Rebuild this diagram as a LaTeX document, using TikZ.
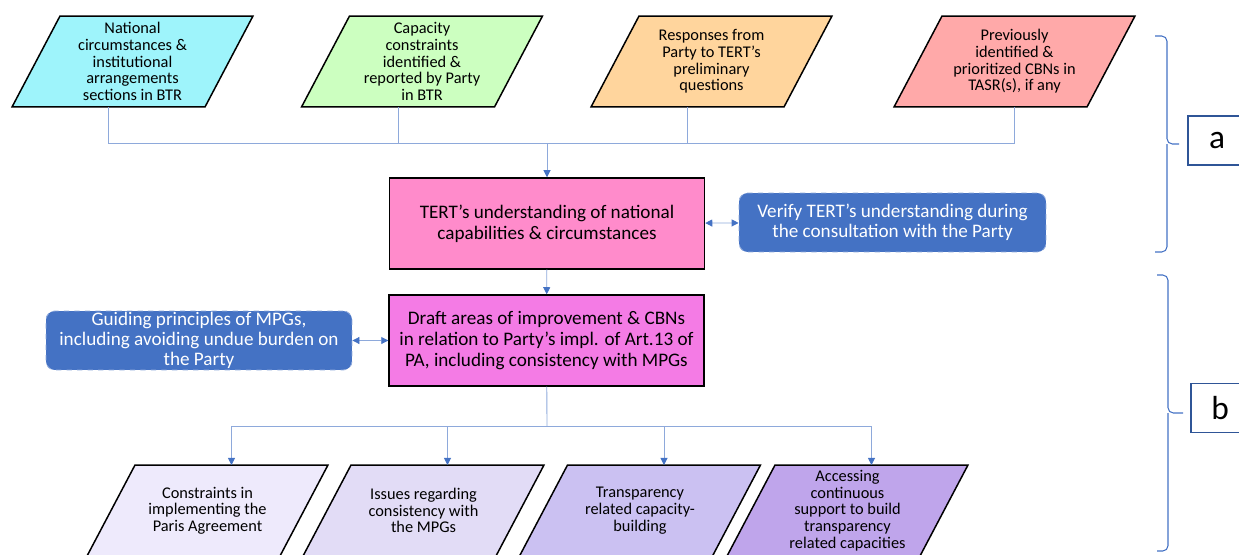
\documentclass[tikz,border=0pt]{standalone}
\usepackage{fontspec}
\setmainfont{Carlito}
\usetikzlibrary{positioning,arrows.meta,backgrounds}
\definecolor{natcol}{HTML}{9EF4FB}
\definecolor{capcol}{HTML}{CCFFC0}
\definecolor{respcol}{HTML}{FFD59D}
\definecolor{prevcol}{HTML}{FFA9A9}
\definecolor{tertcol}{HTML}{FF8BCB}
\definecolor{draftcol}{HTML}{F47BE5}
\definecolor{blueacc}{HTML}{4472C4}
\definecolor{linkcol}{HTML}{8EA9DB}
\definecolor{labcol}{HTML}{2F5597}
\definecolor{outa}{HTML}{EEEAFC}
\definecolor{outb}{HTML}{E2DCF6}
\definecolor{outc}{HTML}{CBC1F2}
\definecolor{outd}{HTML}{BFA5EB}

\begin{document}
\begin{tikzpicture}[x=0.02cm,y=-0.02cm,
	paranode/.style={minimum width=4.82cm,minimum height=1.82cm,inner sep=0pt,outer sep=0pt,align=center,font=\fontsize{9.3}{9.5}\selectfont},
	parashape/.style={draw=black,line width=0.85pt,line join=miter},
	mainbox/.style={draw=black,line width=0.85pt,minimum width=6.3cm,minimum height=1.82cm,inner sep=0pt,align=center,font=\fontsize{10.9}{11.9}\selectfont},
	bluebox/.style={fill=blueacc,draw=linkcol,dashed,line width=0.5pt,rounded corners=5pt,minimum width=6.12cm,minimum height=1.18cm,inner sep=0pt,text=white,align=center,font=\fontsize{10.9}{11.3}\selectfont},
	lab/.style={draw=labcol,line width=1.1pt,minimum width=1.16cm,minimum height=0.98cm,inner sep=0pt,font=\fontsize{19}{23}\selectfont},
	link/.style={draw=linkcol,line width=0.5pt},
	arr/.style={link,-{Triangle[length=4pt,width=4pt,color=blueacc]}},
	darr/.style={link,{Triangle[length=4pt,width=4pt,color=blueacc]}-{Triangle[length=4pt,width=4pt,color=blueacc]}},
	brc/.style={draw=blueacc,line width=0.6pt,rounded corners=3pt}
]
	\useasboundingbox (0,0) rectangle (1239,554);
	\clip (0,0) rectangle (1239,554);
	\foreach \n/\x/\t in {natcirc/132.5/{National\\circumstances \&\\institutional\\arrangements\\sections in BTR},
		capcon/422/{Capacity\\constraints\\identified \&\\reported by Party\\in BTR},
		resp/711.5/{Responses from\\Party to TERT’s\\preliminary\\questions},
		prevcbn/1014.5/{Previously\\identified \&\\prioritized CBNs in\\TASR(s), if any}}{
		\node[paranode] (\n) at (\x,61.5) {\t};
	}
	\node[mainbox,fill=tertcol] (tert) at (547,223.5) {TERT’s understanding of national\\capabilities \& circumstances};
	\node[bluebox,minimum width=6.14cm] (verify) at (892.5,222.5) {Verify TERT’s understanding during\\the consultation with the Party};
	\node[mainbox,fill=draftcol] (draft) at (546.5,340.5) {Draft areas of improvement \& CBNs\\in relation to Party’s impl. of Art.13 of\\PA, including consistency with MPGs};
	\node[bluebox] (guide) at (199,340.5) {Guiding principles of MPGs,\\including avoiding undue burden on\\the Party};
	\foreach \n/\x/\t in {constr/207.5/{Constraints in\\implementing the\\Paris Agreement},
		issues/423.5/{Issues regarding\\consistency with\\the MPGs},
		tcb/640/{Transparency\\related capacity-\\building},
		access/847.5/{Accessing\\continuous\\support to build\\transparency\\related capacities}}{
		\node[paranode] (\n) at (\x,510.5) {\t};
	}
	\begin{pgfonlayer}{background}
		\foreach \n/\c in {natcirc/natcol,capcon/capcol,resp/respcol,prevcbn/prevcol,constr/outa,issues/outb,tcb/outc,access/outd}{
			\draw[parashape,fill=\c] ([xshift=0.96cm]\n.north west) -- (\n.north east) -- ([xshift=-0.96cm]\n.south east) -- (\n.south west) -- cycle;
		}
	\end{pgfonlayer}
	\coordinate (topbus) at (547,143);
	\coordinate (botbus) at (547,426);
	\foreach \n in {natcirc,capcon,resp}{
		\draw[link] ([xshift=-0.48cm]\n.south) |- (topbus);
	}
	\draw[link] (prevcbn.south) |- (topbus);
	\draw[arr] (topbus) -- (tert);
	\draw[arr] (tert) -- (draft);
	\draw[darr] (tert) -- (verify);
	\draw[darr] (guide) -- (draft);
	\draw[link] (draft) -- (botbus);
	\foreach \n in {constr,issues,tcb,access}{
		\draw[arr] (botbus) -| ([xshift=0.48cm]\n.north);
	}
	\node[lab] (laba) at (1217,140.5) {a};
	\node[lab] (labb) at (1220,408) {b};
	\coordinate (bratop) at (1155,36);
	\coordinate (brabot) at (1155,252);
	\coordinate (bratip) at (1179,144);
	\coordinate (brbtop) at (1157,275);
	\coordinate (brbbot) at (1157,551);
	\coordinate (brbtip) at (1183,413);
	\draw[brc] (bratop) -| (1167,144) -- (bratip);
	\draw[brc] (brabot) -| (1167,144);
	\draw[brc] (brbtop) -| (1168,413) -- (brbtip);
	\draw[brc] (brbbot) -| (1168,413);
\end{tikzpicture}
\end{document}
